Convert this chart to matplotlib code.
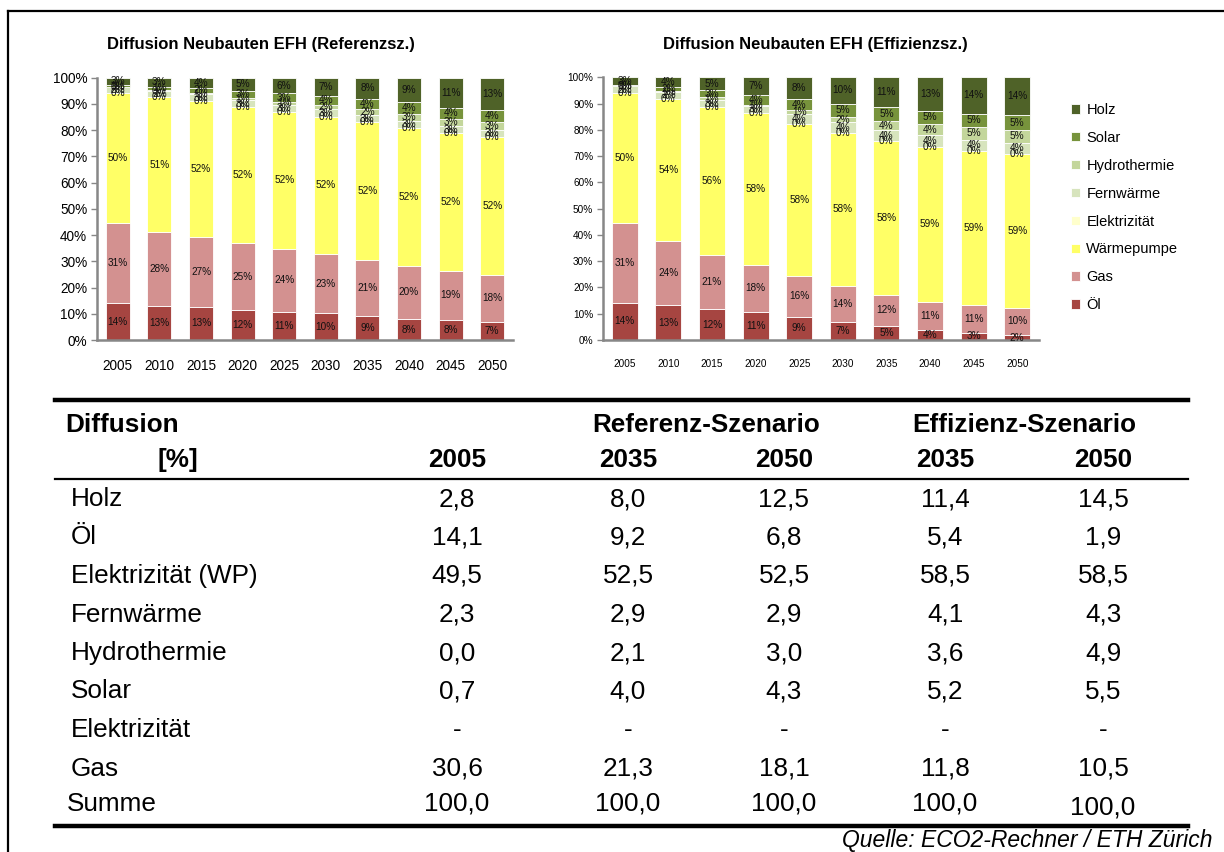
import numpy as np
import matplotlib.pyplot as plt
from matplotlib.lines import Line2D

plt.rcParams['font.family'] = ['Liberation Sans', 'DejaVu Sans']

W, H = 1224, 852

years = ['2005', '2010', '2015', '2020', '2025', '2030', '2035', '2040', '2045', '2050']
series = ['Öl', 'Gas', 'Wärmepumpe', 'Elektrizität', 'Fernwärme', 'Hydrothermie', 'Solar', 'Holz']
colors = ['#A64541', '#D39190', '#FFFF66', '#FFFFCC', '#D7E4BD', '#C3D69B', '#77933C', '#4F6228']

# Referenz-Szenario, Anteile in %
ref_oel = [14.1, 13.0, 12.6, 11.6, 10.8, 10.2, 9.2, 8.0, 7.7, 6.8]
ref_gas = [30.6, 28.3, 26.8, 25.2, 24.0, 22.6, 21.3, 20.3, 18.6, 18.1]
ref_wp = [49.5, 51.2, 51.7, 52.0, 52.2, 52.4, 52.45, 52.45, 52.45, 52.45]
ref_elek = [0.0, 0.0, 0.0, 0.0, 0.0, 0.0, 0.0, 0.0, 0.0, 0.0]
ref_fern = [2.3, 2.4, 2.5, 2.6, 2.6, 2.8, 2.9, 2.9, 2.9, 2.9]
ref_hydro = [0.0, 0.3, 0.6, 0.9, 1.2, 1.6, 2.1, 2.7, 2.7, 3.0]
ref_solar = [0.7, 1.4, 2.0, 2.6, 3.2, 3.6, 4.0, 4.2, 4.2, 4.3]
ref_holz = [2.8, 3.4, 3.8, 5.1, 6.0, 6.8, 8.0, 9.4, 11.4, 12.5]

# Effizienz-Szenario, Anteile in %
eff_oel = [14.1, 13.2, 11.8, 10.8, 8.9, 6.7, 5.4, 3.8, 2.7, 1.9]
eff_gas = [30.6, 24.4, 20.5, 17.7, 15.6, 13.9, 11.8, 10.7, 10.7, 10.45]
eff_wp = [49.5, 54.3, 56.4, 58.0, 57.8, 58.3, 58.45, 59.0, 58.5, 58.5]
eff_elek = [0.0, 0.0, 0.0, 0.0, 0.0, 0.0, 0.0, 0.0, 0.0, 0.0]
eff_fern = [2.3, 2.4, 2.6, 2.5, 3.8, 3.9, 4.1, 4.4, 4.3, 4.3]
eff_hydro = [0.0, 0.5, 1.2, 0.6, 1.3, 2.2, 3.6, 4.4, 4.9, 4.9]
eff_solar = [0.7, 1.6, 2.5, 3.6, 4.4, 5.0, 5.2, 5.0, 5.1, 5.45]
eff_holz = [2.8, 3.6, 5.0, 6.8, 8.2, 10.0, 11.4, 12.7, 13.8, 14.45]

# Tabelle
tab_rows = ['Holz', 'Öl', 'Elektrizität (WP)', 'Fernwärme', 'Hydrothermie', 'Solar', 'Elektrizität', 'Gas', 'Summe']
tab_2005 = [2.8, 14.1, 49.5, 2.3, 0.0, 0.7, None, 30.6, 100.0]
tab_ref_2035 = [8.0, 9.2, 52.5, 2.9, 2.1, 4.0, None, 21.3, 100.0]
tab_ref_2050 = [12.5, 6.8, 52.5, 2.9, 3.0, 4.3, None, 18.1, 100.0]
tab_eff_2035 = [11.4, 5.4, 58.5, 4.1, 3.6, 5.2, None, 11.8, 100.0]
tab_eff_2050 = [14.5, 1.9, 58.5, 4.3, 4.9, 5.5, None, 10.5, 100.0]

fig = plt.figure(figsize=(W / 100, H / 100), dpi=100)


def px_axes(x0, y0, x1, y1):
    return fig.add_axes([x0 / W, 1 - y1 / H, (x1 - x0) / W, (y1 - y0) / H])


def stacked(ax, data, tick_fs, width):
    x = np.arange(len(years))
    bottom = np.zeros(len(years))
    bars = []
    for vals, name, col in zip(data, series, colors):
        vals = np.array(vals)
        b = ax.bar(x, vals, width, bottom=bottom, color=col, edgecolor='white',
                   linewidth=0.6, label=name)
        bars.append(b)
        for xi, v, b0 in zip(x, vals, bottom):
            ax.text(xi, b0 + v / 2, '%d%%' % int(np.floor(v + 0.5)), ha='center',
                    va='center', fontsize=7.2, color='#111111')
        bottom = bottom + vals
    ax.set_xlim(-0.5, len(years) - 0.5)
    ax.set_ylim(0, 100)
    ax.set_yticks(np.arange(0, 101, 10))
    ax.set_yticklabels(['%d%%' % t for t in range(0, 101, 10)], fontsize=tick_fs)
    ax.set_xticks(x)
    ax.set_xticklabels(years, fontsize=tick_fs)
    for s in ['top', 'right']:
        ax.spines[s].set_visible(False)
    for s in ['left', 'bottom']:
        ax.spines[s].set_color('#878787')
        ax.spines[s].set_linewidth(1.8)
    ax.tick_params(axis='y', length=4, width=1, color='#878787', pad=3)
    ax.tick_params(axis='x', length=0, pad=14)
    return bars


ax1 = px_axes(97, 77.7, 513, 340)
stacked(ax1, [ref_oel, ref_gas, ref_wp, ref_elek, ref_fern, ref_hydro, ref_solar, ref_holz], 9.8, 0.58)
ax2 = px_axes(603, 77.3, 1039, 340)
bars = stacked(ax2, [eff_oel, eff_gas, eff_wp, eff_elek, eff_fern, eff_hydro, eff_solar, eff_holz], 7.2, 0.6)

fig.text(107 / W, 1 - 45 / H, 'Diffusion Neubauten EFH (Referenzsz.)', ha='left', va='center',
         fontsize=12, fontweight='bold')
fig.text(968 / W, 1 - 45 / H, 'Diffusion Neubauten EFH (Effizienzsz.)', ha='right', va='center',
         fontsize=12, fontweight='bold')

fig.legend([b[0] for b in bars[::-1]], series[::-1], loc='upper left',
           bbox_to_anchor=(1058 / W, 1 - 90 / H), frameon=False, fontsize=10.5,
           handlelength=0.6, handleheight=0.6, handletextpad=0.45, labelspacing=0.95)

# Tabelle und Rahmen in Pixelkoordinaten
at = fig.add_axes([0, 0, 1, 1], zorder=-1)
at.set_xlim(0, W)
at.set_ylim(H, 0)
at.axis('off')

at.add_line(Line2D([8, W], [11, 11], color='black', lw=1.6))
at.add_line(Line2D([8, 8], [11, H], color='black', lw=1.6))

at.add_line(Line2D([55, 1188], [400, 400], color='black', lw=3.2))
at.add_line(Line2D([55, 1188], [479, 479], color='black', lw=1.6))
at.add_line(Line2D([55, 1188], [826, 826], color='black', lw=3.2))

fs = 18.8
col_x = [457, 628, 784, 945, 1103]
at.text(65, 425, 'Diffusion', fontsize=fs, fontweight='bold', va='center', ha='left')
at.text(706, 425, 'Referenz-Szenario', fontsize=fs, fontweight='bold', va='center', ha='center')
at.text(1024, 425, 'Effizienz-Szenario', fontsize=fs, fontweight='bold', va='center', ha='center')
at.text(198, 460, '[%]', fontsize=fs, fontweight='bold', va='center', ha='right')
for cx, yr in zip(col_x, ['2005', '2035', '2050', '2035', '2050']):
    at.text(cx, 460, yr, fontsize=fs, fontweight='bold', va='center', ha='center')

cols = [tab_2005, tab_ref_2035, tab_ref_2050, tab_eff_2035, tab_eff_2050]
for i, name in enumerate(tab_rows):
    y = 499 + i * 38.5
    if name == 'Summe':
        y = 804
    at.text(67 if name == 'Summe' else 71, y, name, fontsize=fs, va='center', ha='left')
    for j, (cx, col) in enumerate(zip(col_x, cols)):
        v = col[i]
        s = '-' if v is None else ('%.1f' % v).replace('.', ',')
        yy = y + 3 if (name == 'Summe' and j == 4) else y
        at.text(cx, yy, s, fontsize=fs, va='center', ha='center')

at.text(1213, 840, 'Quelle: ECO2-Rechner / ETH Zürich', fontsize=16.5, style='italic',
        va='center', ha='right')

fig.savefig('out.png', dpi=100)
